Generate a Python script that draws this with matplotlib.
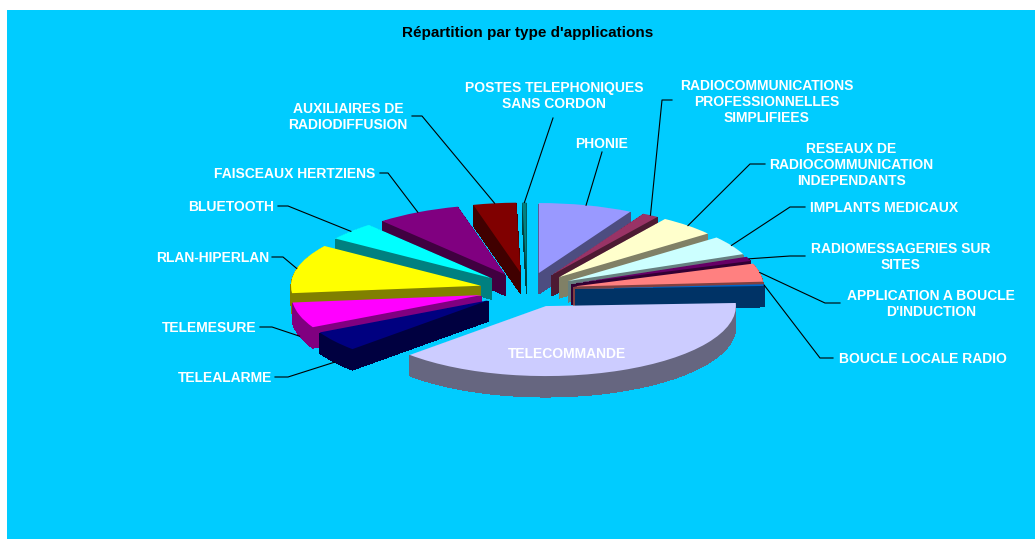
import math
import matplotlib
matplotlib.use("Agg")
import matplotlib.pyplot as plt
from matplotlib.colors import to_rgb

# share of each application type (%), clockwise from 12 o'clock
labels = ["PHONIE",
          "RADIOCOMMUNICATIONS\nPROFESSIONNELLES\nSIMPLIFIEES",
          "RESEAUX DE\nRADIOCOMMUNICATION\nINDEPENDANTS",
          "IMPLANTS MEDICAUX",
          "RADIOMESSAGERIES SUR\nSITES",
          "APPLICATION A BOUCLE\nD'INDUCTION",
          "BOUCLE LOCALE RADIO",
          "TELECOMMANDE",
          "TELEALARME",
          "TELEMESURE",
          "RLAN-HIPERLAN",
          "BLUETOOTH",
          "FAISCEAUX HERTZIENS",
          "AUXILIAIRES DE\nRADIODIFFUSION",
          "POSTES TELEPHONIQUES\nSANS CORDON"]
values = [8.0, 1.4, 4.9, 4.4, 1.0, 4.2, 0.4, 38.4, 4.7, 5.9, 11.3, 4.2, 7.2, 3.65, 0.35]
colors = ["#9999FF", "#993366", "#FFFFCC", "#CCFFFF", "#660066", "#FF8080", "#0066CC", "#CCCCFF",
          "#000080", "#FF00FF", "#FFFF00", "#00FFFF", "#800080", "#800000", "#008080"]

W, H = 1035, 539
CX, CY = 527, 290     # pie centre in pixels
RX, RY = 190, 70      # pixels per data unit, this is the tilt
DEPTH = 21
EXPLODE = 0.25
BG = "#00CCFF"

# label centre, then where the leader leaves the label and its elbow (pixels)
label_pos = [(602, 144), (767, 102), (851, 165), (884, 208), (901, 257), (931, 304), (923, 359),
             (567, 354), (225, 378), (209, 328), (213, 258), (231, 207), (295, 174), (348, 117), (554, 96)]
leader_pts = [[(602, 152)],
              [(672, 100), (662, 100)],
              [(765, 164), (750, 164)],
              [(805, 207), (790, 207)],
              [(805, 256), (790, 256)],
              [(840, 303), (825, 303)],
              [(833, 358), (820, 358)],
              None,
              [(275, 377), (288, 377)],
              [(260, 327), (272, 327)],
              [(272, 257), (283, 257)],
              [(278, 206), (288, 206)],
              [(380, 173), (388, 173)],
              [(412, 116), (422, 116)],
              [(553, 118)]]

plt.rcParams["font.family"] = ["Liberation Sans", "DejaVu Sans"]

fig = plt.figure(figsize=(W / 100, H / 100), dpi=100, facecolor="white")
ax = fig.add_axes([7 / W, 0, (W - 7) / W, (H - 10) / H])

# mid angle of each slice, used for draw order and the leader ends
total = sum(values)
mids = []
angle = 90.0
for v in values:
    sweep = v / total * 360
    mids.append(angle - sweep / 2)
    angle -= sweep

# back slices first, so front ones hide them
order = sorted(range(len(values)), key=lambda i: -math.sin(math.radians(mids[i])))
rank = {i: r for r, i in enumerate(order)}

dark = [tuple(c * 0.5 for c in to_rgb(col)) for col in colors]
for k in range(DEPTH, -1, -1):
    # no antialiasing on the walls, thin slices get streaks otherwise
    wedges, _ = ax.pie(values, colors=dark if k > 0 else colors, explode=[EXPLODE] * len(values),
                       startangle=90, counterclock=False, center=(0, -k / RY),
                       wedgeprops={"linewidth": 0, "antialiased": k == 0})
    for i, w in enumerate(wedges):
        w.set_zorder(rank[i] + (DEPTH - k) * 0.01)

ax.set_aspect("auto")
ax.set_xlim((7 - CX) / RX, (W - CX) / RX)
ax.set_ylim((CY - H) / RY, (CY - 10) / RY)
ax.set_frame_on(True)
ax.set_facecolor(BG)
for s in ax.spines.values():
    s.set_visible(False)

# overlay in pixel coordinates for text and leaders
ov = fig.add_axes([0, 0, 1, 1])
ov.set_xlim(0, W)
ov.set_ylim(H, 0)
ov.axis("off")

ov.text(528, 33, "Répartition par type d'applications", ha="center", va="center",
        fontsize=11, fontweight="bold", color="black")

for i, lab in enumerate(labels):
    x, y = label_pos[i]
    ov.text(x, y, lab, ha="center", va="center", fontsize=10, fontweight="bold",
            color="white", linespacing=1.15)
    if leader_pts[i] is None:
        continue
    a = math.radians(mids[i])
    end_y = CY - (1 + EXPLODE) * RY * math.sin(a)
    if math.sin(a) < 0:
        end_y += DEPTH  # front slices: leader stops at the bottom of the wall
    pts = leader_pts[i] + [(CX + (1 + EXPLODE) * RX * math.cos(a), end_y)]
    ov.plot([p[0] for p in pts], [p[1] for p in pts], color="black", lw=0.8)

fig.savefig("out.png", dpi=100)
